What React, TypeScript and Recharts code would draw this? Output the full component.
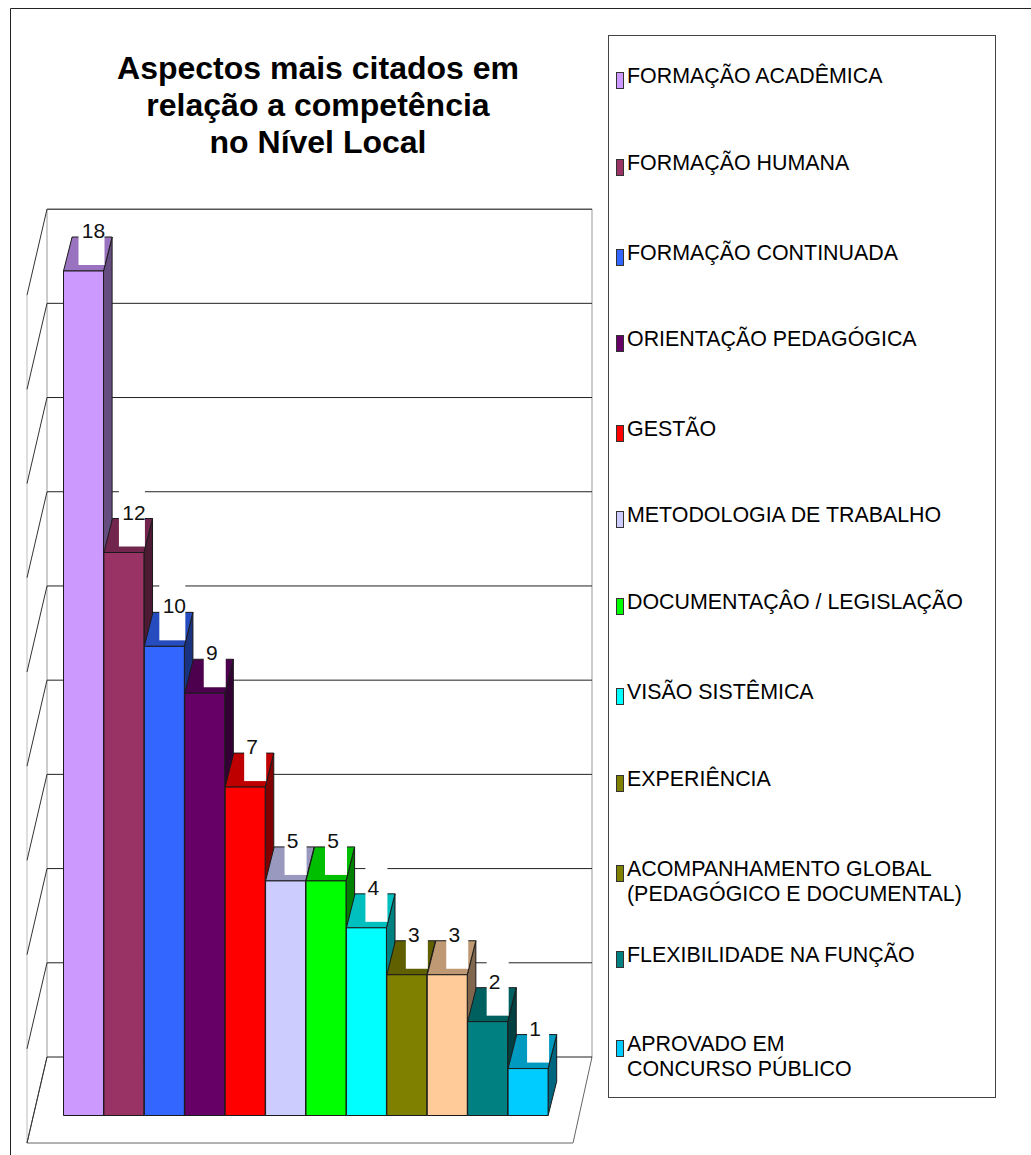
import { Bar, BarChart, CartesianGrid, Cell, LabelList, XAxis, YAxis } from "recharts";

const categories = [
  "FORMAÇÃO ACADÊMICA",
  "FORMAÇÃO HUMANA",
  "FORMAÇÃO CONTINUADA",
  "ORIENTAÇÃO PEDAGÓGICA",
  "GESTÃO",
  "METODOLOGIA DE TRABALHO",
  "DOCUMENTAÇÂO / LEGISLAÇÃO",
  "VISÃO SISTÊMICA",
  "EXPERIÊNCIA",
  "ACOMPANHAMENTO GLOBAL\n(PEDAGÓGICO E DOCUMENTAL)",
  "FLEXIBILIDADE NA FUNÇÃO",
  "APROVADO EM\nCONCURSO PÚBLICO",
];
const values = [18, 12, 10, 9, 7, 5, 5, 4, 3, 3, 2, 1];
const barColors = ["#CC99FF", "#993366", "#3366FF", "#660066", "#FF0000", "#CCCCFF", "#00FF00", "#00FFFF", "#808000", "#FFCC99", "#008080", "#00CCFF"];
const legendColors = ["#CC99FF", "#993366", "#3366FF", "#660066", "#FF0000", "#CCCCFF", "#00FF00", "#00FFFF", "#808000", "#808000", "#008080", "#00CCFF"];
const legendTops = [64, 151, 241, 327, 417, 503, 590, 680, 767, 857, 943, 1032];
const yTicks = [0, 2, 4, 6, 8, 10, 12, 14, 16, 18];
const titleLines = ["Aspectos mais citados em", "relação a competência", "no Nível Local"];

const data = categories.map((name, i) => ({ name, value: values[i] }));

const FONT = "'Liberation Sans', Arial, sans-serif";
const WIDTH = 1031;
const HEIGHT = 1155;
const DEPTH_X = 8.6;
const DEPTH_Y = 34;

// the back wall sits higher than the bars and its scale is a touch larger
const wallY = (y: number) => 1057 - (1115.5 - y) * 1.004;

function shade(hex: string, k: number) {
  const n = parseInt(hex.slice(1), 16);
  const c = (v: number) => Math.round(v * k);
  return `rgb(${c((n >> 16) & 255)},${c((n >> 8) & 255)},${c(n & 255)})`;
}

function Bar3D(props: any) {
  const { x, y, width: w, height: h, fill } = props;
  const dx = DEPTH_X;
  const dy = DEPTH_Y;
  return (
    <g stroke="#1a1a1a" strokeWidth={1} strokeLinejoin="round">
      <polygon points={`${x + w},${y} ${x + w + dx},${y - dy} ${x + w + dx},${y + h - dy} ${x + w},${y + h}`} fill={shade(fill, 0.5)} />
      <polygon points={`${x},${y} ${x + dx},${y - dy} ${x + w + dx},${y - dy} ${x + w},${y}`} fill={shade(fill, 0.75)} />
      <rect x={x} y={y} width={w} height={h} fill={fill} />
    </g>
  );
}

function ValueLabel(props: any) {
  const { x, y, value } = props;
  const text = String(value);
  const boxW = text.length > 1 ? 26 : 22;
  const right = x + 41;
  return (
    <g>
      <rect x={right - boxW} y={y - 61.5} width={boxW} height={55.5} fill="#fff" />
      <text x={x + (text.length > 1 ? 30 : 27)} y={y - 33} textAnchor="middle" fontFamily={FONT} fontSize={21} fill="#111">
        {text}
      </text>
    </g>
  );
}

function WallLine(props: any) {
  const y = wallY(props.y1);
  return (
    <g>
      <line x1={47} y1={y} x2={592} y2={y} stroke="#222" strokeWidth={1} />
      <line x1={47} y1={y} x2={27} y2={y + 86} stroke="#333" strokeWidth={1} />
    </g>
  );
}

function Frame() {
  return (
    <svg width={WIDTH} height={HEIGHT} style={{ position: "absolute", left: 0, top: 0 }}>
      <path d={`M10.5 ${HEIGHT} V8.5 H${WIDTH}`} fill="none" stroke="#222" />
      <line x1={47} y1={209} x2={47} y2={1057} stroke="#999" />
      <line x1={592} y1={209} x2={592} y2={1057} stroke="#999" />
      <line x1={27} y1={295} x2={27} y2={1143} stroke="#bbb" />
      <path d="M47 1057 L27 1143 H573 L592 1057" fill="none" stroke="#666" />
    </svg>
  );
}

export default function App() {
  return (
    <div style={{ position: "fixed", left: 0, top: 0, width: WIDTH, height: HEIGHT, background: "#fff", overflow: "hidden" }}>
      <Frame />
      <div style={{ position: "absolute", left: 0, top: 0 }}>
        <BarChart
          width={WIDTH}
          height={HEIGHT}
          data={data}
          barCategoryGap={0}
          margin={{ top: 271, right: 482.5, bottom: 39.5, left: 63.5 }}
        >
          <CartesianGrid vertical={false} horizontal={(p: any) => <WallLine key={p.key} {...p} />} />
          <XAxis dataKey="name" hide />
          <YAxis hide domain={[0, 18]} ticks={yTicks} />
          <Bar dataKey="value" isAnimationActive={false} shape={<Bar3D />}>
            {data.map((d, i) => (
              <Cell key={d.name} fill={barColors[i]} />
            ))}
            <LabelList dataKey="value" content={<ValueLabel />} />
          </Bar>
        </BarChart>
      </div>
      {/* top edge of the wall stays over the label box of the tallest bar */}
      <div style={{ position: "absolute", left: 47, top: 209, width: 545, height: 1, background: "#555" }} />

      <div style={{ position: "absolute", left: 0, top: 50, width: 636, textAlign: "center", fontFamily: FONT, fontWeight: 700, fontSize: 32, lineHeight: "37px", color: "#000" }}>
        {titleLines.map((t) => (
          <div key={t}>{t}</div>
        ))}
      </div>

      <div style={{ position: "absolute", left: 608, top: 35, width: 386, height: 1061, border: "1px solid #444", background: "#fff" }} />
      {categories.map((c, i) => (
        <div key={c} style={{ position: "absolute", left: 616, top: legendTops[i] }}>
          <span style={{ position: "absolute", left: 0, top: 8, width: 6, height: 15, background: legendColors[i], border: "1px solid #333" }} />
          <div style={{ position: "absolute", left: 11, top: 0, whiteSpace: "pre", fontFamily: FONT, fontSize: 21.4, lineHeight: "25px", color: "#000" }}>{c}</div>
        </div>
      ))}
    </div>
  );
}
